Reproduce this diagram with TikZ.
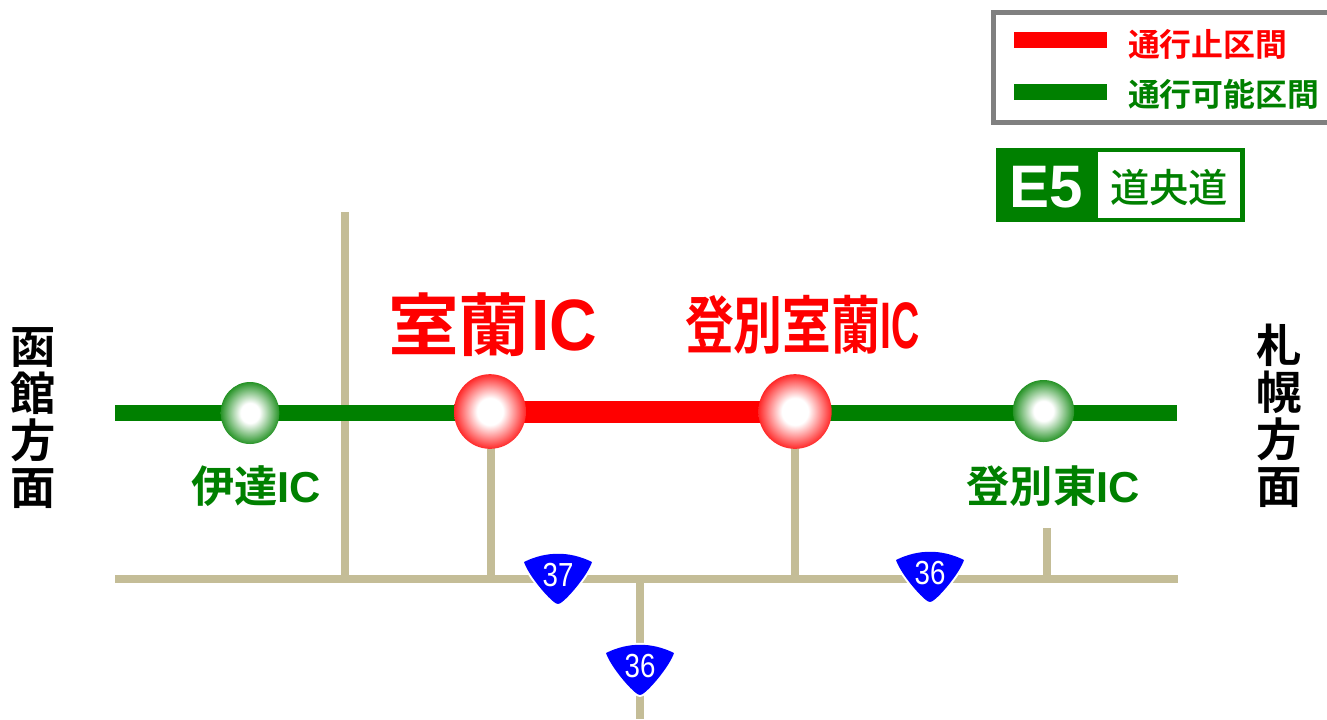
\documentclass[tikz,border=0pt]{standalone}
\usepackage{fontspec}
\usetikzlibrary{shapes.geometric}
\setmainfont{Liberation Sans}
\newfontfamily\jpb{Noto Sans CJK JP Bold}
\newfontfamily\jpr{Noto Sans CJK JP Medium}
\newfontfamily\lab{Liberation Sans}[BoldFont={Liberation Sans Bold}]
\definecolor{roadtan}{RGB}{196,189,151}
\definecolor{expgreen}{RGB}{0,128,0}
\definecolor{legendgrey}{RGB}{128,128,128}
\pgfdeclareradialshading{icred}{\pgfpointorigin}{color(0bp)=(white); color(9bp)=(white); color(28bp)=(red); color(100bp)=(red)}
\pgfdeclareradialshading{icgreen}{\pgfpointorigin}{color(0bp)=(white); color(8bp)=(white); color(28bp)=(expgreen); color(100bp)=(expgreen)}
\tikzset{
  x=0.75pt,y=-0.75pt,
  road/.style={draw=roadtan,line width=6.6pt},
  openline/.style={draw=expgreen,line width=12pt},
  closedline/.style={draw=red,line width=16.5pt},
  icball/.style={ellipse,inner sep=0pt,outer sep=0pt,shading=#1,draw=none},
  pxtext/.style={inner sep=0pt,outer sep=0pt,font=\jpb\fontsize{#1}{#1}\selectfont},
  dirtext/.style={inner sep=0pt,outer sep=0pt,align=center,font=\jpb\fontsize{34}{35.2}\selectfont},
  shieldnum/.style={inner sep=0pt,outer sep=0pt,text=white,font=\lab\fontsize{25}{25}\selectfont}
}
\begin{document}
\begin{tikzpicture}
\useasboundingbox (0,0) rectangle (1327,719);
\fill[white] (0,0) rectangle (1327,719);
\coordinate (rw) at (115,579);
\coordinate (re) at (1178,579);
\coordinate (v1t) at (345,212);
\coordinate (v1b) at (345,579);
\coordinate (v2t) at (491,440);
\coordinate (v2b) at (491,579);
\coordinate (v3t) at (795,440);
\coordinate (v3b) at (795,579);
\coordinate (v4t) at (1047,528);
\coordinate (v4b) at (1047,579);
\coordinate (v5t) at (640,579);
\coordinate (v5b) at (640,719);
\coordinate (gw) at (115,413);
\coordinate (ge) at (1177,413);
\draw[road] (rw) -- (re);
\draw[road] (v1t) -- (v1b);
\draw[road] (v2t) -- (v2b);
\draw[road] (v3t) -- (v3b);
\draw[road] (v4t) -- (v4b);
\draw[road] (v5t) -- (v5b);
\draw[openline] (gw) -- (ge);
\coordinate (c1) at (490,412);
\coordinate (c2) at (795,412);
\draw[closedline] (c1) -- (c2);
\node[icball=icgreen,minimum width=44pt,minimum height=46.5pt] (date) at (250,413) {};
\node[icball=icgreen,minimum width=46pt,minimum height=46.5pt] (nbe) at (1043.5,411) {};
\node[icball=icred,minimum width=54pt,minimum height=56pt] (mur) at (490,411.5) {};
\node[icball=icred,minimum width=55pt,minimum height=56pt] (nbm) at (795,411.5) {};
% labels
\node[pxtext=51,text=red,anchor=west] (lmur) at (388,325) {\scalebox{1.04}[1]{室蘭}\kern1.5pt\scalebox{0.97}[1.07]{\lab\bfseries IC}};
\node[pxtext=47,text=red,anchor=west,xscale=0.78] (lnbm) at (685,325) {登別室蘭\scalebox{0.8}[1.05]{\lab\bfseries IC}};
\node[pxtext=32.5,text=expgreen] (ldate) at (256,486) {伊達{\lab\bfseries IC}};
\node[pxtext=32.5,text=expgreen] (lnbe) at (1053,486) {登別東{\lab\bfseries IC}};
\node[dirtext] (dw) at (33,418) {函\\館\\方\\面};
\node[dirtext] (de) at (1279,416) {札\\幌\\方\\面};
% shields
\foreach \nm/\cx/\cy/\num in {sa/558/554/37,sb/930/552/36,sc/640/645/36}{
  \begin{scope}[shift={(\cx,\cy)}]
    \draw[white,line width=3pt,fill=blue,line join=round]
      (-34,8) .. controls (-12,-3) and (12,-3) .. (34,8)
      .. controls (30,20) and (13,41) .. (4,48)
      .. controls (1,50.5) and (-1,50.5) .. (-4,48)
      .. controls (-13,41) and (-30,20) .. (-34,8) -- cycle;
    \fill[blue,line join=round]
      (-34,8) .. controls (-12,-3) and (12,-3) .. (34,8)
      .. controls (30,20) and (13,41) .. (4,48)
      .. controls (1,50.5) and (-1,50.5) .. (-4,48)
      .. controls (-13,41) and (-30,20) .. (-34,8) -- cycle;
    \node[shieldnum,xscale=0.83] (\nm) at (0,21.5) {\num};
  \end{scope}
}
% legend
\draw[draw=legendgrey,line width=3.75pt] (1327,12.5) -- (993,12.5) -- (993,122.5) -- (1327,122.5);
\coordinate (la) at (1014,40);
\coordinate (lb) at (1107,40);
\coordinate (lc) at (1014,92);
\coordinate (ld) at (1107,92);
\draw[draw=red,line width=12pt] (la) -- (lb);
\draw[draw=expgreen,line width=12pt] (lc) -- (ld);
\node[pxtext=23.9,text=red,anchor=west] (t1) at (1128,44) {通行止区間};
\node[pxtext=23.9,text=expgreen,anchor=west] (t2) at (1128,94.5) {通行可能区間};
% route sign
\fill[expgreen] (996,148) rectangle (1245,222);
\fill[white] (1098,152) rectangle (1240,218);
\node[inner sep=0pt,text=white,font=\lab\bfseries\fontsize{45}{45}\selectfont] (e5) at (1046,187) {E5};
\node[inner sep=0pt,text=expgreen,font=\jpr\fontsize{29.5}{30}\selectfont] (dou) at (1169,188) {道央道};
\end{tikzpicture}
\end{document}
